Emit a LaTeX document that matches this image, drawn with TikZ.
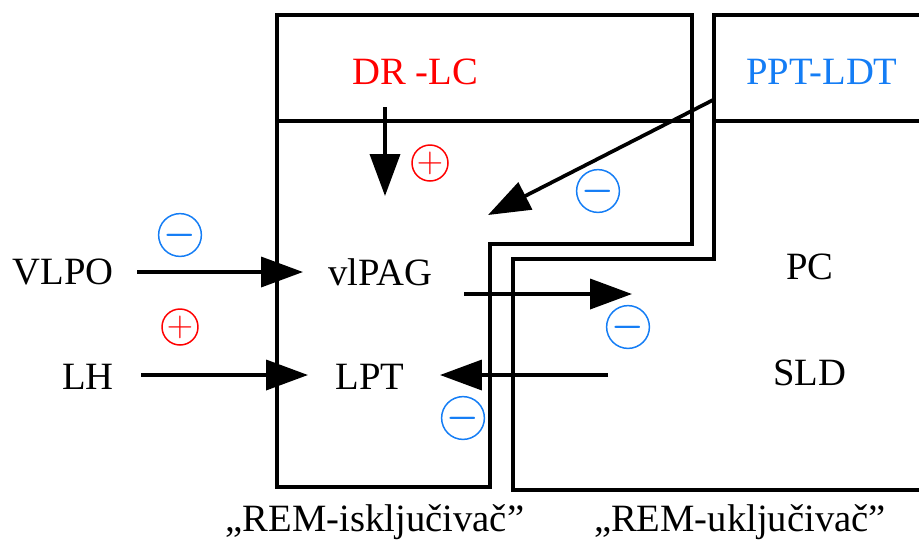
\documentclass[tikz,border=0pt]{standalone}
\usepackage{bm}
\usepackage{fontspec}
\setmainfont{Liberation Serif}
\usetikzlibrary{arrows.meta}
\definecolor{sigred}{RGB}{255,0,0}
\definecolor{sigblue}{RGB}{20,125,245}

\begin{document}
\begin{tikzpicture}[x=0.02cm, y=-0.02cm, line cap=butt,
    lbl/.style={font=\fontsize{22}{26}\selectfont, inner sep=0pt},
    sign/.style={circle, draw, line width=0.85pt, minimum size=0.72cm, inner sep=0pt,
      font=\fontsize{20}{20}\selectfont},
    link/.style={line width=2.1pt, -{Triangle[length=0.84cm, width=0.6cm]}}]
  \useasboundingbox (0,0) rectangle (919,539);
  % REM-off box (DR-LC on top, vlPAG / LPT below)
  \draw[line width=2.6pt, line join=miter]
    (277,15) -- (692,15) -- (692,244) -- (490,244) -- (490,487) -- (277,487) -- cycle;
  \draw[line width=2.6pt] (277,121) -- (692,121);
  % REM-on box (PPT-LDT on top, PC / SLD below)
  \draw[line width=2.6pt, line join=miter]
    (925,15) -- (714,15) -- (714,259) -- (513,259) -- (513,490) -- (925,490);
  \draw[line width=2.6pt] (714,121) -- (925,121);
  % region labels
  \node[lbl, text=sigred]  (drlc)  at (415,72)  {DR -LC};
  \node[lbl, text=sigblue] (pptl)  at (822,72)  {PPT-LDT};
  \node[lbl]               (vlpo)  at (63,272)  {VLPO};
  \node[lbl]               (lh)    at (88,377)  {LH};
  \node[lbl]               (vlpag) at (380,272) {vlPAG};
  \node[lbl]               (lpt)   at (370,377) {LPT};
  \node[lbl]               (pc)    at (810,267) {PC};
  \node[lbl]               (sld)   at (810,373) {SLD};
  \node[lbl] (off) at (375,522) {„REM-isključivač”};
  \node[lbl] (on)  at (740,522) {„REM-uključivač”};
  % arrow ends
  \coordinate (drlcTip)  at (385,196);
  \coordinate (pptlTip)  at (488,215);
  \coordinate (vlpoTip)  at (303,272);
  \coordinate (lhTip)    at (308,375);
  \coordinate (vlpagOut) at (464,294);
  \coordinate (sldTip)   at (632,294);
  \coordinate (sldOut)   at (608,375);
  \coordinate (lptTip)   at (440,375);
  % connectors
  \draw[link] (385,107) -- (drlcTip);
  \draw[link] (713,100) -- (pptlTip);
  \draw[link] (137,272) -- (vlpoTip);
  \draw[link] (141,375) -- (lhTip);
  \draw[link] (vlpagOut) -- (sldTip);
  \draw[link] (sldOut) -- (lptTip);
  % signs
  \node[sign, draw=sigred, text=sigred]   (s1) at (430,163) {$+$};
  \node[sign, draw=sigblue, text=sigblue] (s2) at (598,191) {$\bm{-}$};
  \node[sign, draw=sigblue, text=sigblue] (s3) at (180,235) {$\bm{-}$};
  \node[sign, draw=sigred, text=sigred]   (s4) at (180,327) {$+$};
  \node[sign, draw=sigblue, text=sigblue] (s5) at (628,327) {$\bm{-}$};
  \node[sign, draw=sigblue, text=sigblue] (s6) at (463,418) {$\bm{-}$};
\end{tikzpicture}
\end{document}
